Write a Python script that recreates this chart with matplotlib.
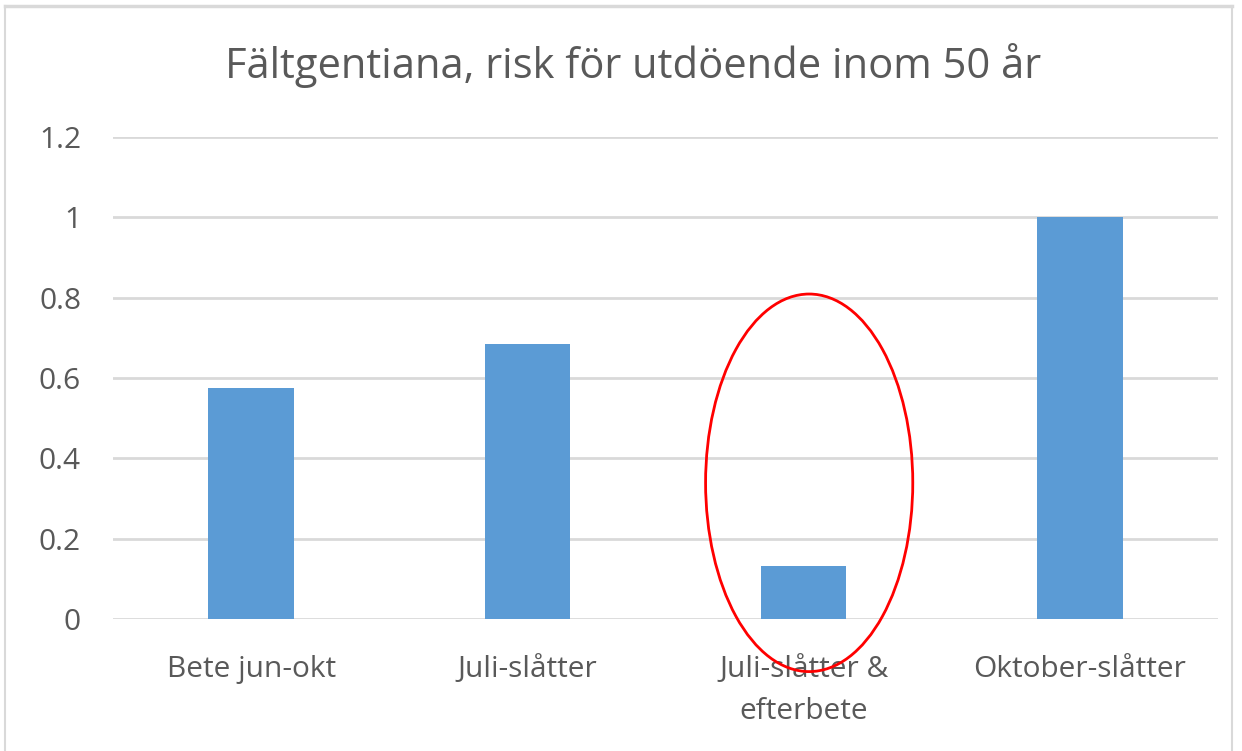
import matplotlib.pyplot as plt
from matplotlib.patches import Ellipse
from matplotlib.lines import Line2D

# Data
kategorier = ['Bete jun-okt', 'Juli-slåtter', 'Juli-slåtter &\nefterbete', 'Oktober-slåtter']
risk = [0.575, 0.685, 0.132, 1.0]
yticks = [0, 0.2, 0.4, 0.6, 0.8, 1.0, 1.2]
ytick_labels = ['0', '0.2', '0.4', '0.6', '0.8', '1', '1.2']

plt.rcParams['font.family'] = ['Open Sans', 'DejaVu Sans']
textfarg = '#595959'

fig = plt.figure(figsize=(12.42, 7.51), dpi=100)
ax = fig.add_axes([0.091, 0.1758, 0.8897, 0.6418])

x = list(range(len(kategorier)))
ax.bar(x, risk, width=0.31, color='#5b9bd5', zorder=3)

ax.set_xlim(-0.5, 3.5)
ax.set_ylim(0, 1.2)
ax.set_yticks(yticks)
ax.set_yticklabels(ytick_labels)
ax.set_xticks(x)
ax.set_xticklabels(kategorier, linespacing=1.6)
ax.tick_params(axis='both', length=0, labelsize=21.5, colors=textfarg)
ax.tick_params(axis='y', pad=23)
ax.tick_params(axis='x', pad=26)
for lbl in ax.get_xticklabels() + ax.get_yticklabels():
    lbl.set_color(textfarg)

ax.grid(axis='y', color='#d9d9d9', linewidth=2, zorder=0)
for s in ax.spines.values():
    s.set_visible(False)

# Red ellipse marking
ax.add_patch(Ellipse((2.02, 0.339), 0.75, 0.94, fill=False, edgecolor='red',
                     linewidth=2, clip_on=False, zorder=4))

fig.text(0.51, 0.913, 'Fältgentiana, risk för utdöende inom 50 år', ha='center',
         va='center', fontsize=30, color=textfarg)

# Chart border
W, H = 1242, 751
fig.add_artist(Line2D([5 / W, 1232 / W], [1 - 6 / H, 1 - 6 / H], color='#d9d9d9', linewidth=2.5))
fig.add_artist(Line2D([5 / W, 5 / W], [0, 1 - 6 / H], color='#d9d9d9', linewidth=1.5))
fig.add_artist(Line2D([1232 / W, 1232 / W], [0, 1 - 6 / H], color='#d9d9d9', linewidth=1.5))

fig.savefig('out.png', dpi=100, facecolor='white')
